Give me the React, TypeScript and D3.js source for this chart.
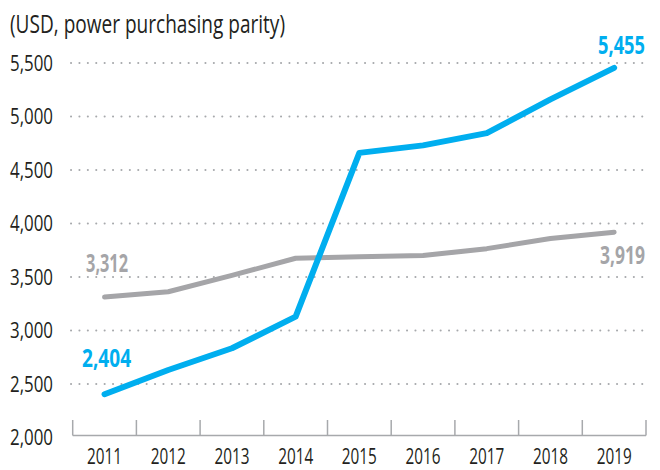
import React from "react";
import * as d3 from "d3";

const years = ["2011","2012","2013","2014","2015","2016","2017","2018","2019"];
const blueValues = [2404, 2631, 2834, 3130, 4660, 4730, 4845, 5160, 5455];
const grayValues = [3312, 3362, 3515, 3675, 3690, 3700, 3765, 3860, 3919];
const yTicks = [2000, 2500, 3000, 3500, 4000, 4500, 5000, 5500];
const title = "(USD, power purchasing parity)";

const BLUE = "#00AEEF";
const GRAY = "#A5A5A8";
const TEXT = "#231F20";
const FONT = "'Open Sans', 'Liberation Sans', sans-serif";
const SX = 0.72;

function Label({ x, y, anchor, width, color, children }: any) {
  return (
    <text transform={`translate(${x},${y}) scale(${SX},1)`} textAnchor={anchor} fontSize={25}
      fontWeight="bold" fill={color} textLength={width / SX} lengthAdjust="spacingAndGlyphs">{children}</text>
  );
}

export default function App() {
  const W = 660, H = 470;
  const x = d3.scaleBand<string>().domain(years).range([72.7, 646]).padding(0);
  const y = d3.scaleLinear().domain([2000, 5500]).range([437.5, 63]);
  const cx = (i: number) => (x(years[i]) as number) + x.bandwidth() / 2;
  const line = d3.line<number>().x((_, i) => cx(i)).y((d) => y(d));
  const fmt = d3.format(",");
  const boundaries = [...years.map((yr) => x(yr) as number), 646];
  const baseY = 435.5;
  const last = years.length - 1;

  return (
    <svg width={W} height={H} style={{ position: "absolute", left: 0, top: 0, background: "#fff" }} fontFamily={FONT}>
      <text x={10} y={33} fontSize={25} fill={TEXT} textLength={275} lengthAdjust="spacingAndGlyphs">{title}</text>
      {yTicks.map((t) => (
        <g key={t}>
          {t > 2000 && (
            <line x1={71} x2={646} y1={y(t)} y2={y(t)} stroke="#A7A9AC" strokeWidth={2}
              strokeDasharray="0.1 8.3" strokeLinecap="round" />
          )}
          <text x={10} y={y(t) + 7.5} fontSize={22} fill={TEXT} textLength={43} lengthAdjust="spacingAndGlyphs">{fmt(t)}</text>
        </g>
      ))}
      <line x1={boundaries[0]} x2={646} y1={baseY} y2={baseY} stroke="#A7A9AC" strokeWidth={1.5} />
      {boundaries.map((b, i) => (
        <line key={i} x1={b} x2={b} y1={baseY} y2={420} stroke="#A7A9AC" strokeWidth={1.5} />
      ))}
      {years.map((yr, i) => (
        <text key={yr} x={cx(i) - 17.5} y={464} fontSize={21} fill={TEXT} textLength={35} lengthAdjust="spacingAndGlyphs">{yr}</text>
      ))}
      <path d={line(grayValues) as string} fill="none" stroke={GRAY} strokeWidth={5} strokeLinejoin="round" strokeLinecap="round" />
      <path d={line(blueValues) as string} fill="none" stroke={BLUE} strokeWidth={6} strokeLinejoin="round" strokeLinecap="round" />
      <Label x={cx(0) - 22.5} y={y(blueValues[0]) - 27} anchor="start" width={49} color={BLUE}>{fmt(blueValues[0])}</Label>
      <Label x={cx(0) - 18.5} y={y(grayValues[0]) - 25.5} anchor="start" width={42} color={GRAY}>{fmt(grayValues[0])}</Label>
      <Label x={645} y={y(blueValues[last]) - 14} anchor="end" width={47} color={BLUE}>{fmt(blueValues[last])}</Label>
      <Label x={645} y={y(grayValues[last]) + 32} anchor="end" width={45} color={GRAY}>{fmt(grayValues[last])}</Label>
    </svg>
  );
}
